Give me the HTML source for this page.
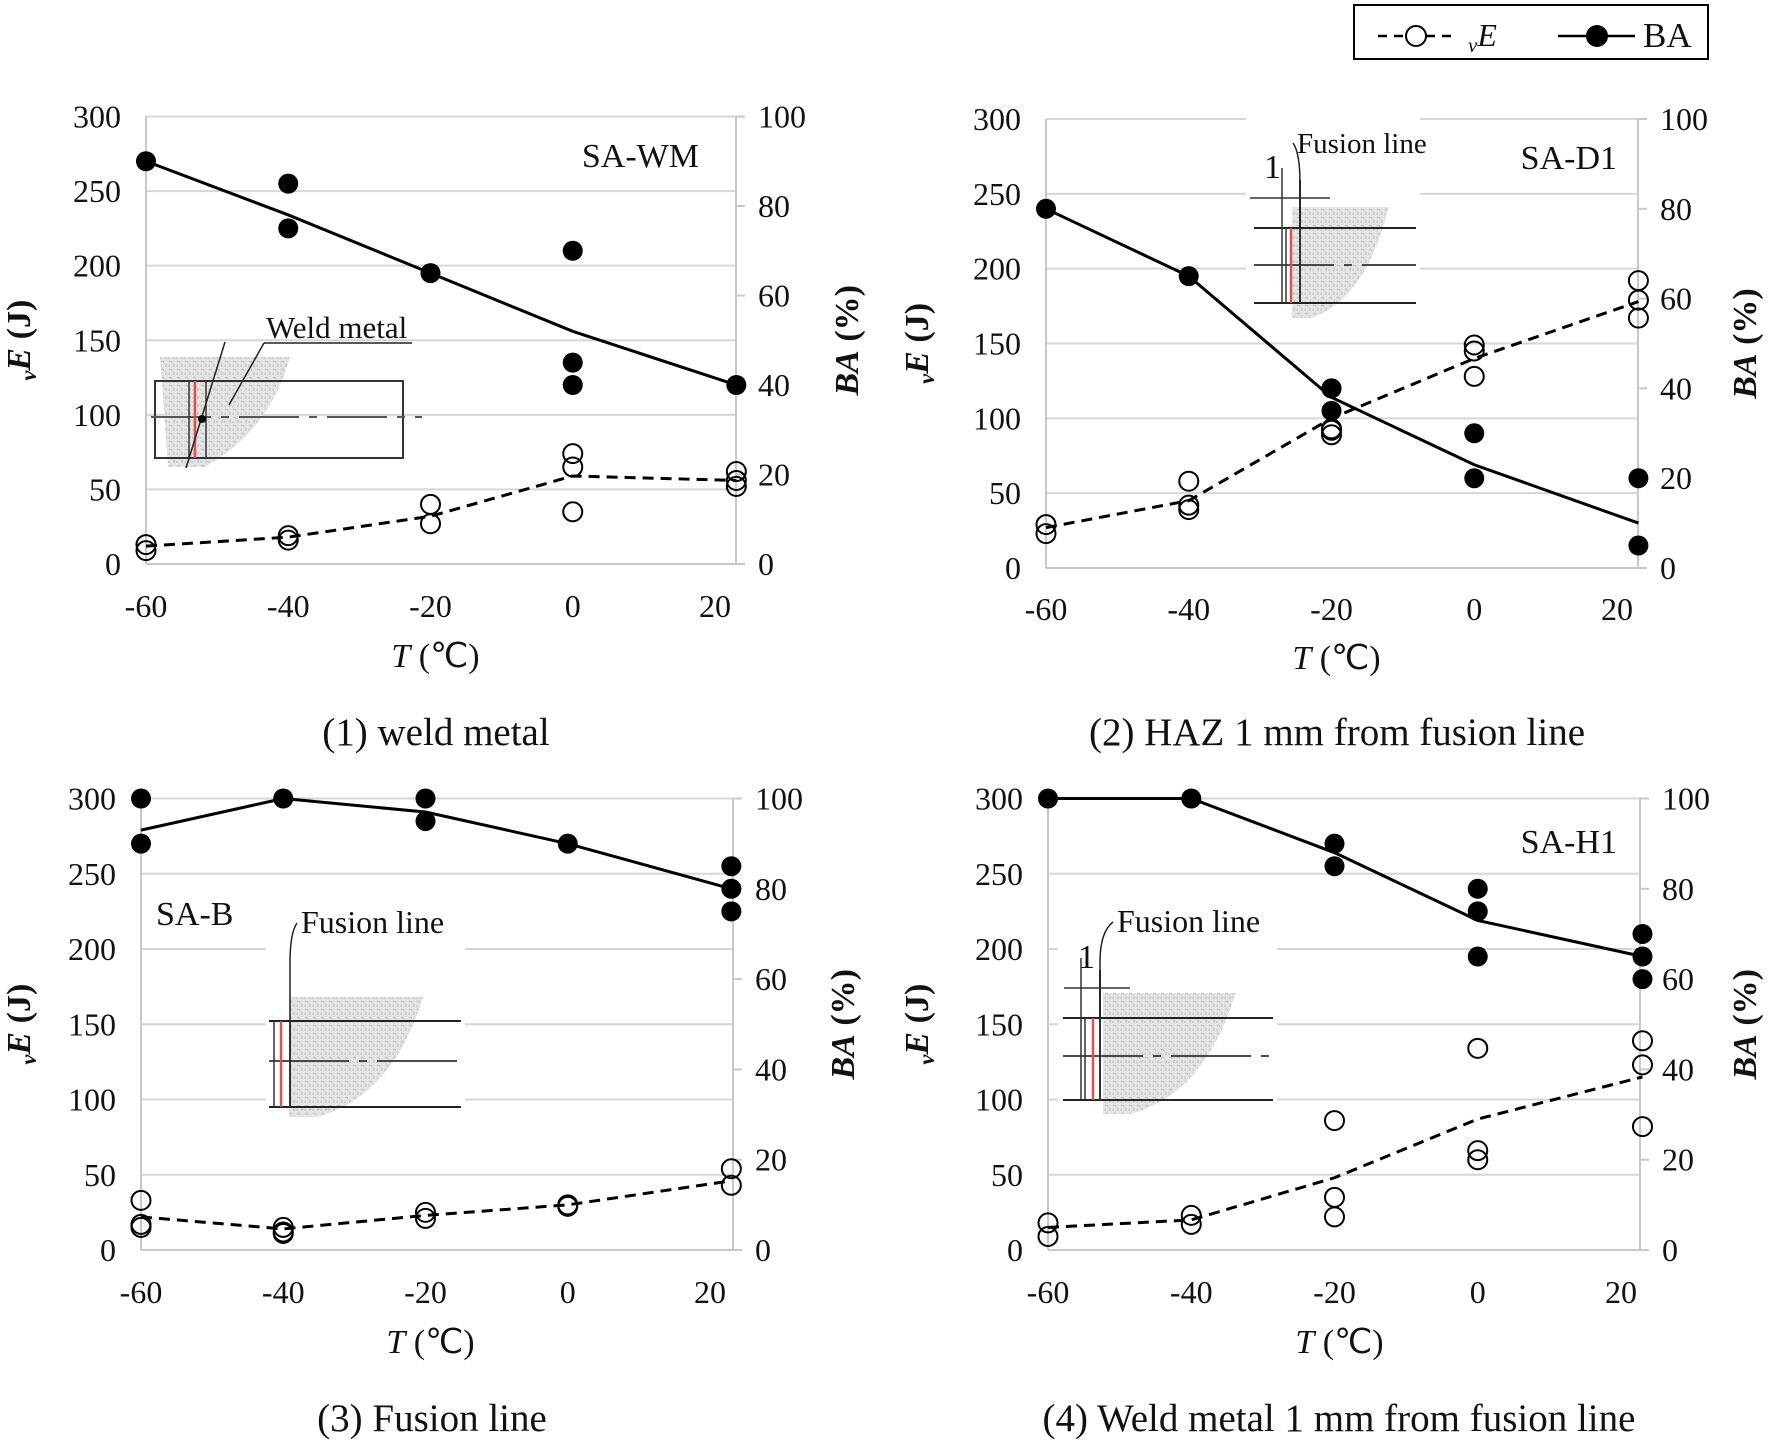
<!DOCTYPE html>
<html><head><meta charset="utf-8"><style>
html,body{margin:0;padding:0;background:#fff}
svg{display:block}
text{font-family:"Liberation Serif",serif;fill:#111}
</style></head><body>
<svg id="fig" width="1773" height="1441" viewBox="0 0 1773 1441" xmlns="http://www.w3.org/2000/svg">
<defs>
<pattern id="stip" width="8" height="8" patternUnits="userSpaceOnUse">
<rect width="8" height="8" fill="#e4e4e4"/>
<path d="M1 2 q2 -2 3 1 M5 6 q2 1 1 -2 M0 6 h2" stroke="#bdbdbd" stroke-width="1" fill="none"/>
</pattern>
</defs>
<g id="legend">
<rect x="1354" y="5" width="354" height="54" fill="#fff" stroke="#000" stroke-width="2"/>
<g>
<line x1="1378" y1="36" x2="1455" y2="36" stroke="#000" stroke-width="2.5" stroke-dasharray="9,7"/>
<circle cx="1416" cy="36" r="10" fill="#fff" stroke="#000" stroke-width="2"/>
<text x="1468" y="46" font-size="32" font-style="italic"><tspan font-size="21" dy="6">v</tspan><tspan dy="-6">E</tspan></text>
</g>
<g>
<line x1="1558" y1="36" x2="1635" y2="36" stroke="#000" stroke-width="2.5"/>
<circle cx="1597" cy="36" r="11" fill="#000"/>
<text x="1643" y="47" font-size="35">BA</text>
</g>
</g>
</svg>
<script>
// ---- data ----
const xTicks = [-60, -40, -20, 0, 20];
const leftTicks = [0, 50, 100, 150, 200, 250, 300];
const rightTicks = [0, 20, 40, 60, 80, 100];
const lineTemps = [-60, -40, -20, 0, 23];

const p1VeX = [-60,-60,-40,-40,-20,-20,0,0,0,23,23,23];
const p1VeY = [13,9,19,16,40,27,74,65,35,62,52,56];
const p1VeLine = [12,18,32,59,56];
const p1BaX = [-60,-40,-40,-20,0,0,0,23];
const p1BaY = [90,85,75,65,70,45,40,40];
const p1BaLine = [90,78,65,52,40];

const p2VeX = [-60,-60,-40,-40,-40,-20,-20,-20,0,0,0,23,23,23];
const p2VeY = [29,23,58,42,39,92,89,93,149,145,128,192,179,167];
const p2VeLine = [27,45,100,140,178];
const p2BaX = [-60,-40,-20,-20,-20,0,0,23,23];
const p2BaY = [80,65,40,40,35,30,20,20,5];
const p2BaLine = [80,65,38,23,10];

const p3VeX = [-60,-60,-60,-40,-40,-40,-20,-20,0,0,23,23];
const p3VeY = [33,17,15,15,12,11,25,21,30,29,54,43];
const p3VeLine = [22,14,23,30,46];
const p3BaX = [-60,-60,-40,-20,-20,0,23,23,23];
const p3BaY = [100,90,100,100,95,90,85,75,80];
const p3BaLine = [93,100,97,90,80];

const p4VeX = [-60,-60,-40,-40,-20,-20,-20,0,0,0,23,23,23];
const p4VeY = [18,9,23,17,86,35,22,134,66,60,139,123,82];
const p4VeLine = [15,20,48,87,115];
const p4BaX = [-60,-40,-20,-20,0,0,0,23,23,23];
const p4BaY = [100,100,90,85,80,75,65,70,65,60];
const p4BaLine = [100,100,88,73,65];

const panels = [
 {id:'p1', L:146, R:736, T:116.5, B:564, x20:715, label:'SA-WM', lx:699, ly:167, la:'end', cap:'(1) weld metal', capy:745, tky:617, tty:667, yl:20, yr:858,
  ve:[p1VeX,p1VeY,p1VeLine], ba:[p1BaX,p1BaY,p1BaLine], inset:'wm'},
 {id:'p2', L:1046, R:1638, T:119, B:568, x20:1617, label:'SA-D1', lx:1617, ly:169, la:'end', cap:'(2) HAZ 1 mm from fusion line', capy:745, tky:620, tty:669, yl:918, yr:1756,
  ve:[p2VeX,p2VeY,p2VeLine], ba:[p2BaX,p2BaY,p2BaLine], inset:'d1'},
 {id:'p3', L:141, R:733, T:798.5, B:1250, x20:710, label:'SA-B', lx:156, ly:925, la:'start', cap:'(3) Fusion line', capy:1431, tky:1303, tty:1353, yl:20, yr:854,
  ve:[p3VeX,p3VeY,p3VeLine], ba:[p3BaX,p3BaY,p3BaLine], inset:'b'},
 {id:'p4', L:1048, R:1640, T:798.5, B:1250, x20:1621, label:'SA-H1', lx:1617, ly:853, la:'end', cap:'(4) Weld metal 1 mm from fusion line', capy:1431, tky:1303, tty:1353, yl:918, yr:1756,
  ve:[p4VeX,p4VeY,p4VeLine], ba:[p4BaX,p4BaY,p4BaLine], inset:'h1'}
];

const NS='http://www.w3.org/2000/svg';
const svg=document.getElementById('fig');
function mk(tag, attrs, parent){const e=document.createElementNS(NS,tag);for(const k in attrs)e.setAttribute(k,attrs[k]);(parent||svg).appendChild(e);return e;}
function txt(s, attrs, parent){const e=mk('text',attrs,parent);e.textContent=s;return e;}

function drawInset(g, kind){
  if(kind==='wm'){
    mk('path',{d:'M160 357 L290 357 Q270 430 205 467 L168 467 Z',fill:'url(#stip)'},g);
    mk('rect',{x:155,y:381,width:248,height:77,fill:'none',stroke:'#333','stroke-width':2},g);
    mk('line',{x1:151,y1:417,x2:422,y2:417,stroke:'#555','stroke-width':2,'stroke-dasharray':'60,10,8,10'},g);
    mk('line',{x1:195,y1:381,x2:195,y2:458,stroke:'#e05050','stroke-width':2.5},g);
    mk('line',{x1:189,y1:381,x2:189,y2:458,stroke:'#333','stroke-width':1.5},g);
    mk('line',{x1:206,y1:381,x2:206,y2:458,stroke:'#333','stroke-width':1.5},g);
    mk('line',{x1:225,y1:342,x2:186,y2:468,stroke:'#222','stroke-width':1.5},g);
    mk('circle',{cx:202,cy:419,r:4,fill:'#000'},g);
    mk('line',{x1:264,y1:343,x2:229,y2:405,stroke:'#222','stroke-width':1.5},g);
    mk('line',{x1:264,y1:343,x2:412,y2:343,stroke:'#222','stroke-width':1.5},g);
    txt('Weld metal',{x:266,y:338,'font-size':31},g);
  } else {
    const P={d1:{x0:1254,x1:1416,bx:1246,y1:228,y2:265,y3:303,sx:1292,sy:207,sy2:318,red:1291,blk:1300,thin:1286,lab:1297,laby:153,one:1264,oney:178,dim:true},
             b:{x0:269,x1:461,bx:266,y1:1021,y2:1061,y3:1107,sx:289,sy:997,sy2:1117,red:281,blk:290,thin:274,lab:301,laby:933,dim:false},
             h1:{x0:1063,x1:1273,bx:1058,y1:1018,y2:1056,y3:1100,sx:1103,sy:993,sy2:1114,red:1093,blk:1100,thin:1085,lab:1117,laby:932,one:1078,oney:968,dim:true}}[kind];
    mk('rect',{x:P.bx,y:P.laby-40,width:P.x1-P.bx+4,height:P.sy2-P.laby+42,fill:'#fff'},g);
    const w=P.x1-P.sx;
    mk('path',{d:`M${P.sx} ${P.sy} L${P.sx+w*0.78} ${P.sy} Q${P.sx+w*0.6} ${P.sy2-20} ${P.sx+w*0.16} ${P.sy2} L${P.sx} ${P.sy2} Z`,fill:'url(#stip)'},g);
    [P.y1,P.y3].forEach(y=>mk('line',{x1:P.x0,y1:y,x2:P.x1,y2:y,stroke:'#222','stroke-width':2},g));
    mk('line',{x1:P.x0,y1:P.y2,x2:P.x1,y2:P.y2,stroke:'#333','stroke-width':1.8,'stroke-dasharray':'80,10,8,10'},g);
    mk('line',{x1:P.thin,y1:P.y1,x2:P.thin,y2:P.y3,stroke:'#333','stroke-width':1.5},g);
    mk('line',{x1:P.red,y1:P.y1,x2:P.red,y2:P.y3,stroke:'#e05050','stroke-width':2.5},g);
    mk('line',{x1:P.blk,y1:P.dim?P.y1-48:P.y1,x2:P.blk,y2:P.y3,stroke:'#333','stroke-width':2},g);
    mk('path',{d:`M${P.lab-4} ${P.laby-10} Q${P.blk} ${P.laby} ${P.blk} ${P.laby+30} L${P.blk} ${P.y1}`,fill:'none',stroke:'#222','stroke-width':1.5},g);
    txt('Fusion line',{x:P.lab,y:P.laby,'font-size':kind==='d1'?29:32},g);
    if(P.dim){
      const dy=P.y1-30;
      mk('line',{x1:P.thin-4,y1:P.y1-60,x2:P.thin-4,y2:P.y3,stroke:'#333','stroke-width':1.5},g);
      mk('line',{x1:P.one-14,y1:dy,x2:P.blk+30,y2:dy,stroke:'#333','stroke-width':1.5},g);
      txt('1',{x:P.one,y:P.oney,'font-size':34,fill:'#444'},g);
    }
  }
}

panels.forEach(p=>{
  const g=mk('g',{});
  
  
  const X=t=>p.L+(t+60)*(p.x20-p.L)/80;
  const YL=v=>p.B-v*(p.B-p.T)/300;
  const YR=v=>p.B-v*(p.B-p.T)/100;
  leftTicks.forEach(v=>{ if(v>0){const l=mk('line',{x1:p.L,y1:YL(v),x2:p.R,y2:YL(v),stroke:'#d6d6d6','stroke-width':2},g);
    
    }});
  const ax=mk('line',{x1:p.L,y1:p.T,x2:p.L,y2:p.B,stroke:'#c8c8c8','stroke-width':2},g);
  
  
  const ax2=mk('line',{x1:p.R,y1:p.T,x2:p.R,y2:p.B,stroke:'#c8c8c8','stroke-width':2},g);
  
  
  mk('line',{x1:p.L,y1:p.B,x2:p.R,y2:p.B,stroke:'#c8c8c8','stroke-width':2},g);
  rightTicks.forEach(v=>mk('line',{x1:p.R,y1:YR(v),x2:p.R+9,y2:YR(v),stroke:'#c8c8c8','stroke-width':2},g));
  const ig=mk('g',{},g);
  
  
  drawInset(ig,p.inset);
  leftTicks.forEach(v=>{const t=txt(String(v),{x:p.L-25,y:YL(v)+11,'font-size':32,'text-anchor':'end'},g);
    
    });
  rightTicks.forEach(v=>{const t=txt(String(v),{x:p.R+22,y:YR(v)+11,'font-size':32},g);
    
    });
  xTicks.forEach(v=>{const t=txt(String(v),{x:X(v),y:p.tky,'font-size':32,'text-anchor':'middle'},g);
    
    });
  const xt=txt('',{x:(p.L+p.x20)/2+5,y:p.tty,'font-size':34,'text-anchor':'middle'},g);
  xt.innerHTML='<tspan font-style="italic">T</tspan> (℃)';
  
  
  const cy=(p.T+p.B)/2;
  const yt=txt('',{x:0,y:0,'font-size':34,'font-weight':'bold','text-anchor':'middle',transform:`translate(${p.yl+10},${cy}) rotate(-90)`},g);
  yt.innerHTML='<tspan font-style="italic" font-size="23" dy="6">v</tspan><tspan font-style="italic" dy="-6">E</tspan> (J)';
  
  
  const yr=txt('',{x:0,y:0,'font-size':34,'font-weight':'bold','text-anchor':'middle',transform:`translate(${p.yr},${cy}) rotate(-90)`},g);
  yr.innerHTML='<tspan font-style="italic">BA</tspan> (%)';
  
  
  const pl=txt(p.label,{x:p.lx,y:p.ly,'font-size':34,'text-anchor':p.la},g);
  
  
  const cp=txt(p.cap,{x:(p.L+p.R)/2-5,y:p.capy,'font-size':39,'text-anchor':'middle'},g);
  
  
  const veL=mk('polyline',{points:lineTemps.map((t,i)=>X(t)+','+YL(p.ve[2][i])).join(' '),fill:'none',stroke:'#000','stroke-width':3,'stroke-dasharray':'11,7'},g);
  
  
  const baL=mk('polyline',{points:lineTemps.map((t,i)=>X(t)+','+YR(p.ba[2][i])).join(' '),fill:'none',stroke:'#000','stroke-width':3},g);
  
  
  p.ve[0].forEach((t,i)=>{const c=mk('circle',{cx:X(t),cy:YL(p.ve[1][i]),r:9.5,fill:'none',stroke:'#000','stroke-width':2},g);
    
    });
  p.ba[0].forEach((t,i)=>{const c=mk('circle',{cx:X(t),cy:YR(p.ba[1][i]),r:10,fill:'#000'},g);
    
    });
});
</script>
</body></html>
